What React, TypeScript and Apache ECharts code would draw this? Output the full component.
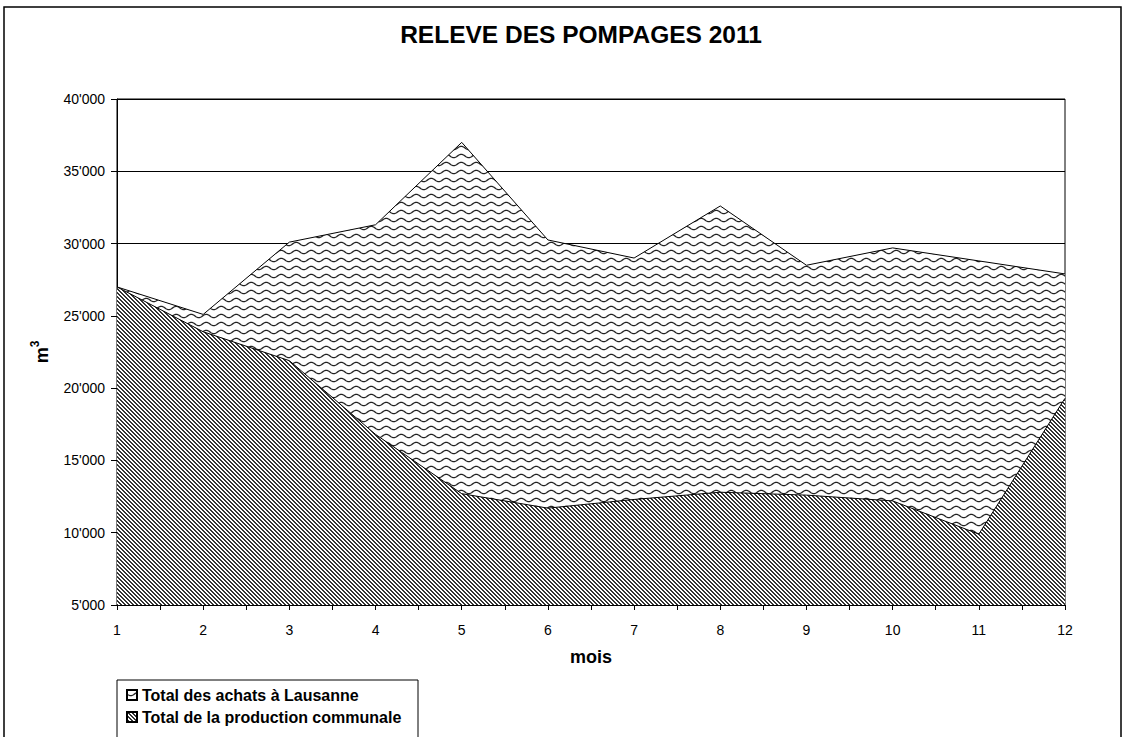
import React, { useEffect, useRef } from 'react';
import * as echarts from 'echarts';

const months = [1, 2, 3, 4, 5, 6, 7, 8, 9, 10, 11, 12];
const production = [27000, 23900, 21900, 16800, 12700, 11700, 12300, 12800, 12600, 12200, 9900, 19300];
const achats = [0, 1200, 8200, 14500, 24300, 18550, 16700, 19800, 15900, 17500, 18900, 8600];
const seriesNames = ['Total des achats à Lausanne', 'Total de la production communale'];
const titleText = 'RELEVE DES POMPAGES 2011';
const xName = 'mois';

function diagCanvas() {
  const c = document.createElement('canvas');
  c.width = 4;
  c.height = 4;
  const ctx = c.getContext('2d')!;
  ctx.fillStyle = '#ffffff';
  ctx.fillRect(0, 0, 4, 4);
  ctx.fillStyle = '#333333';
  for (let y = 0; y < 4; y++) {
    for (let x = 0; x < 4; x++) {
      const d = (((x - y) % 4) + 4) % 4;
      if (d === 0 || d === 1) ctx.fillRect(x, y, 1, 1);
    }
  }
  return c;
}

function waveCanvas() {
  const w = 15;
  const h = 8;
  const c = document.createElement('canvas');
  c.width = w;
  c.height = h;
  const ctx = c.getContext('2d')!;
  ctx.fillStyle = '#ffffff';
  ctx.fillRect(0, 0, w, h);
  ctx.strokeStyle = '#222222';
  ctx.lineWidth = 1.3;
  ctx.beginPath();
  for (let i = -2; i <= w + 2; i += 0.5) {
    const y = 4 + 1.7 * Math.sin((2 * Math.PI * i) / w);
    if (i === -2) ctx.moveTo(i, y);
    else ctx.lineTo(i, y);
  }
  ctx.stroke();
  return c;
}

function fmt(v: number) {
  const th = Math.floor(v / 1000);
  const rest = String(v % 1000).padStart(3, '0');
  return `${th}'${rest}`;
}

export default function App() {
  const ref = useRef<HTMLDivElement>(null);
  useEffect(() => {
    document.body.style.margin = '0';
    const chart = echarts.init(ref.current!, null, { renderer: 'svg' });
    const diag = diagCanvas();
    const wave = waveCanvas();
    const totals = production.map((p, i) => p + achats[i]);
    const font = 'Liberation Sans';
    chart.setOption({
      animation: false,
      backgroundColor: '#ffffff',
      title: {
        text: titleText,
        left: 576,
        top: 17,
        textAlign: 'center',
        textStyle: { fontFamily: font, fontSize: 24.5, fontWeight: 'bold', color: '#000' },
      },
      grid: {
        left: 117,
        right: 1122 - 1065,
        top: 99,
        bottom: 737 - 605,
        show: true,
        borderColor: '#000',
        borderWidth: 1,
        backgroundColor: 'transparent',
      },
      legend: {
        orient: 'vertical',
        left: 121,
        top: 679,
        itemWidth: 10,
        itemHeight: 10,
        itemGap: 0,
        icon: 'rect',
        data: seriesNames,
        textStyle: { fontFamily: font, fontSize: 16, fontWeight: 'bold', color: '#000', lineHeight: 22 },
      },
      xAxis: {
        type: 'value',
        min: 1,
        max: 12,
        interval: 1,
        name: xName,
        nameLocation: 'middle',
        nameGap: 43,
        nameTextStyle: { fontFamily: font, fontSize: 18, fontWeight: 'bold', color: '#000' },
        axisLine: { show: true, lineStyle: { color: '#000', width: 1 } },
        axisTick: { show: true, inside: false, length: 5, lineStyle: { color: '#000' } },
        minorTick: { show: true, splitNumber: 2, length: 5, lineStyle: { color: '#000' } },
        splitLine: { show: false },
        axisLabel: { fontFamily: font, fontSize: 14, color: '#000', margin: 18 },
      },
      yAxis: {
        type: 'value',
        min: 5000,
        max: 40000,
        interval: 5000,
        name: '{m|m}{s|3}',
        nameLocation: 'middle',
        nameRotate: 90,
        nameGap: 66,
        nameTextStyle: {
          fontFamily: font,
          fontWeight: 'bold',
          color: '#000',
          rich: {
            m: { fontFamily: font, fontSize: 18, fontWeight: 'bold', color: '#000', verticalAlign: 'bottom', lineHeight: 22 },
            s: { fontFamily: font, fontSize: 12, fontWeight: 'bold', color: '#000', verticalAlign: 'top', lineHeight: 22 },
          },
        },
        axisLine: { show: true, lineStyle: { color: '#000', width: 1 } },
        axisTick: { show: true, inside: false, length: 6, lineStyle: { color: '#000' } },
        splitLine: { show: true, lineStyle: { color: '#000', width: 1 } },
        axisLabel: { fontFamily: font, fontSize: 14, color: '#000', margin: 12, formatter: fmt },
      },
      series: [
        {
          name: seriesNames[0],
          type: 'line',
          data: months.map((m, i) => [m, totals[i]]),
          symbol: 'none',
          lineStyle: { color: '#000', width: 1 },
          itemStyle: { color: { image: wave, repeat: 'repeat' }, borderColor: '#000', borderWidth: 1 },
          areaStyle: { color: { image: wave, repeat: 'repeat' }, opacity: 1, origin: 'start' },
        },
        {
          name: seriesNames[1],
          type: 'line',
          data: months.map((m, i) => [m, production[i]]),
          symbol: 'none',
          lineStyle: { color: '#000', width: 1 },
          itemStyle: { color: { image: diag, repeat: 'repeat' }, borderColor: '#000', borderWidth: 1 },
          areaStyle: { color: { image: diag, repeat: 'repeat' }, opacity: 1, origin: 'start' },
        },
      ],
      graphic: [
        {
          type: 'rect',
          shape: { x: 4, y: 7, width: 1117, height: 760 },
          style: { fill: 'none', stroke: '#000', lineWidth: 1.5 },
          silent: true,
        },
        {
          type: 'rect',
          shape: { x: 117, y: 680, width: 301, height: 80 },
          style: { fill: 'none', stroke: '#000', lineWidth: 1 },
          silent: true,
        },
      ],
    });
    return () => chart.dispose();
  }, []);
  return <div ref={ref} style={{ width: 1122, height: 737 }} />;
}
